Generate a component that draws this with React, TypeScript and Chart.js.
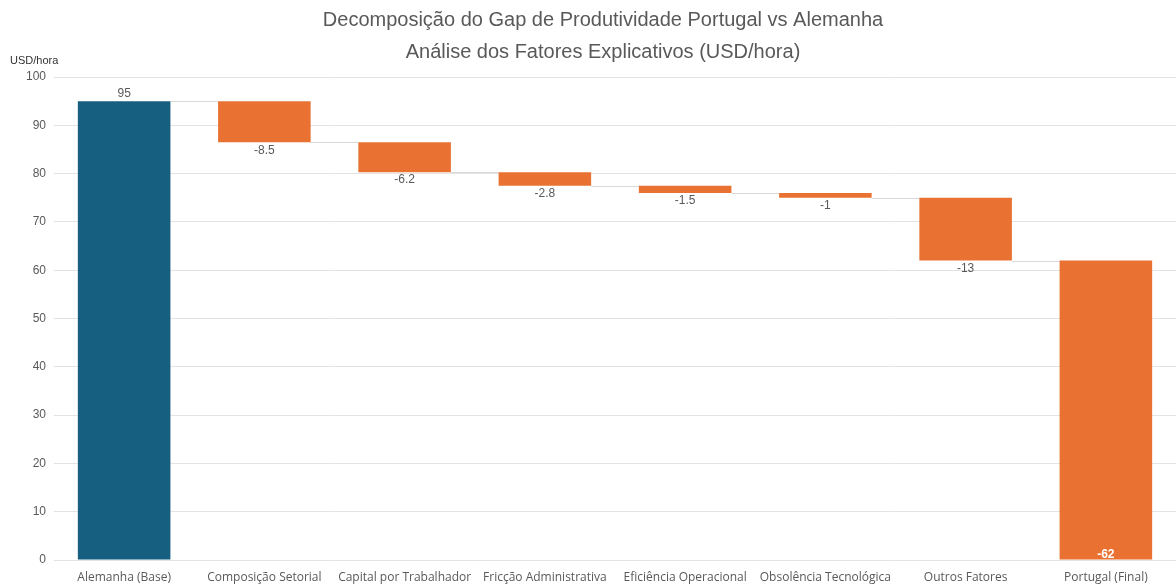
import React, { useEffect, useRef } from "react";
import { Chart, registerables } from "chart.js";

Chart.register(...registerables);

const categories = [
  "Alemanha (Base)",
  "Composição Setorial",
  "Capital por Trabalhador",
  "Fricção Administrativa",
  "Eficiência Operacional",
  "Obsolência Tecnológica",
  "Outros Fatores",
  "Portugal (Final)",
];
const baseValue = 95;
const factorDeltas = [-8.5, -6.2, -2.8, -1.5, -1, -13];
const yTickValues = [0, 10, 20, 30, 40, 50, 60, 70, 80, 90, 100];
const titleLines = [
  "Decomposição do Gap de Produtividade Portugal vs Alemanha",
  "Análise dos Fatores Explicativos (USD/hora)",
];
const yAxisTitle = "USD/hora";

const BLUE = "#175F80";
const ORANGE = "#E97233";
const TEXT = "#595959";

const round1 = (v: number) => Math.round(v * 10) / 10;

// cumulative levels after each bar
const levels: number[] = [baseValue];
factorDeltas.forEach((d) => levels.push(round1(levels[levels.length - 1] + d)));
const finalValue = levels[levels.length - 1];
levels.push(finalValue);

const ranges: [number, number][] = [[0, baseValue]];
factorDeltas.forEach((d, i) => {
  const prev = levels[i];
  ranges.push([round1(prev + d), prev]);
});
ranges.push([0, finalValue]);

const labelTexts = [String(baseValue), ...factorDeltas.map((d) => String(d)), "-" + finalValue];
const barColors = categories.map((_, i) => (i === 0 ? BLUE : ORANGE));

const decorPlugin = {
  id: "waterfallDecor",
  beforeDatasetsDraw(chart: any) {
    const meta = chart.getDatasetMeta(0);
    const y = chart.scales.y;
    const ctx = chart.ctx;
    ctx.save();
    ctx.strokeStyle = "#d9d9d9";
    ctx.lineWidth = 1;
    for (let i = 0; i < meta.data.length - 1; i++) {
      const a = meta.data[i];
      const b = meta.data[i + 1];
      const py = Math.round(y.getPixelForValue(levels[i])) + 0.5;
      ctx.beginPath();
      ctx.moveTo(a.x + a.width / 2, py);
      ctx.lineTo(b.x - b.width / 2, py);
      ctx.stroke();
    }
    ctx.restore();
  },
  afterDatasetsDraw(chart: any) {
    const meta = chart.getDatasetMeta(0);
    const y = chart.scales.y;
    const ctx = chart.ctx;
    const area = chart.chartArea;
    ctx.save();
    ctx.textAlign = "center";
    ctx.font = '12px "Liberation Sans", Arial, sans-serif';
    const n = meta.data.length;
    meta.data.forEach((bar: any, i: number) => {
      const [lo, hi] = ranges[i];
      if (i === 0) {
        ctx.fillStyle = TEXT;
        ctx.textBaseline = "bottom";
        ctx.fillText(labelTexts[i], bar.x, y.getPixelForValue(hi) - 1);
      } else if (i === n - 1) {
        ctx.fillStyle = "#ffffff";
        ctx.font = 'bold 12px "Liberation Sans", Arial, sans-serif';
        ctx.textBaseline = "bottom";
        ctx.fillText(labelTexts[i], bar.x, y.getPixelForValue(lo) + 1);
      } else {
        ctx.fillStyle = TEXT;
        ctx.textBaseline = "top";
        ctx.fillText(labelTexts[i], bar.x, y.getPixelForValue(lo) + 2);
      }
    });
    // y-axis unit label
    ctx.font = '11px "Liberation Sans", Arial, sans-serif';
    ctx.fillStyle = "#333333";
    ctx.textAlign = "left";
    ctx.textBaseline = "middle";
    ctx.fillText(yAxisTitle, 10, area.top - 16);
    // two-line title, centred slightly right of the canvas centre
    ctx.font = '20px "Liberation Sans", Arial, sans-serif';
    ctx.fillStyle = TEXT;
    ctx.textAlign = "center";
    const cx = chart.width / 2 + 15;
    titleLines.forEach((line, k) => {
      ctx.fillText(line, cx, 20 + k * 32);
    });
    ctx.restore();
  },
};

export default function App() {
  const canvasRef = useRef<HTMLCanvasElement | null>(null);

  useEffect(() => {
    if (!canvasRef.current) return;
    const chart = new Chart(canvasRef.current, {
      type: "bar",
      data: {
        labels: categories,
        datasets: [
          {
            data: ranges as any,
            backgroundColor: barColors,
            borderWidth: 0,
            borderSkipped: false,
            barPercentage: 0.66,
            categoryPercentage: 1,
          },
        ],
      },
      options: {
        animation: false,
        responsive: true,
        maintainAspectRatio: false,
        layout: { padding: { left: 0, right: -4, top: 77, bottom: 2 } },
        plugins: {
          legend: { display: false },
          tooltip: { enabled: false },
          title: { display: false },
        },
        scales: {
          x: {
            grid: { display: false, drawTicks: false },
            border: { display: false },
            afterFit: (scale: any) => {
              scale.height = 25;
            },
            ticks: {
              color: TEXT,
              font: { family: '"Open Sans", sans-serif', size: 12 },
              maxRotation: 0,
              autoSkip: false,
              padding: 10,
            },
          },
          y: {
            min: 0,
            max: 100,
            afterBuildTicks: (scale: any) => {
              scale.ticks = yTickValues.map((v) => ({ value: v }));
            },
            afterFit: (scale: any) => {
              scale.width = 54;
            },
            grid: { color: "#e3e3e3", drawTicks: false },
            border: { display: false },
            ticks: {
              color: TEXT,
              font: { family: '"Liberation Sans", Arial, sans-serif', size: 12 },
              padding: 8,
            },
          },
        },
      },
      plugins: [decorPlugin],
    });
    return () => chart.destroy();
  }, []);

  return (
    <div style={{ position: "absolute", left: 0, top: 0, width: 1176, height: 587, background: "#fff" }}>
      <canvas ref={canvasRef} />
    </div>
  );
}
